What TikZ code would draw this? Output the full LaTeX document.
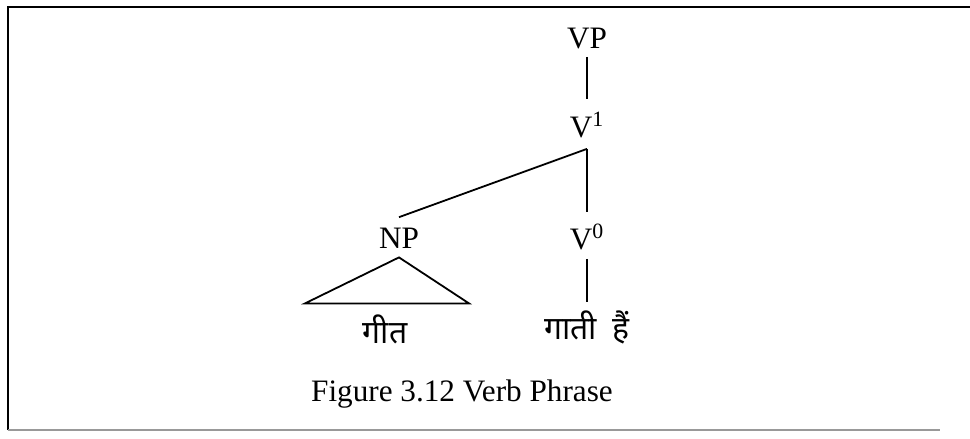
\documentclass[tikz,border=0pt]{standalone}
\usepackage{fontspec}
\setmainfont{Liberation Serif}
\newfontfamily\devfont[Script=Devanagari]{Noto Sans}
\usetikzlibrary{positioning}
\tikzset{
  lbl/.style={inner sep=0pt, anchor=base, font=\fontsize{15.6}{18}\selectfont},
  hindi/.style={inner sep=0pt, anchor=base, font=\fontsize{16}{19}\selectfont\devfont},
  edge/.style={line width=0.9pt},
}
\begin{document}
\begin{tikzpicture}[x=0.5pt,y=-0.5pt]
\useasboundingbox (0,0) rectangle (970,439);
% frame
\draw[line width=1.1pt] (8,430) -- (8,7) -- (970,7);
\draw[black!40, line width=0.6pt] (8,430) -- (940,430);
% tree labels
\node[lbl] (vp) at (587,48) {VP};
\node[lbl] (vone) at (587,137) {V\textsuperscript{1}};
\node[lbl] (np) at (399,248) {NP};
\node[lbl] (vzero) at (587,249) {V\textsuperscript{0}};
\node[hindi] (geet) at (385,343) {गीत};
\node[hindi] (gaati) at (587,339) {गाती\hspace{0.5em}हैं};
\node[lbl] (caption) at (462,401) {Figure 3.12 Verb Phrase};
% branches
\coordinate[below=5.5pt of vone] (fork);
\coordinate[above=5pt of np] (np-top);
\coordinate[below=4.5pt of np] (np-apex);
\draw[edge, shorten <=4pt, shorten >=6.5pt] (vp.south) -- (vone.north);
\draw[edge] (np-top) -- (fork);
\draw[edge, shorten >=6pt] (fork) -- (vzero.north);
\draw[edge, shorten <=4.5pt, shorten >=4pt] (vzero.south) -- (gaati.north);
\draw[edge] (np-apex) -- ++(-94,46) -- ++(164,0) -- cycle;
\end{tikzpicture}
\end{document}
